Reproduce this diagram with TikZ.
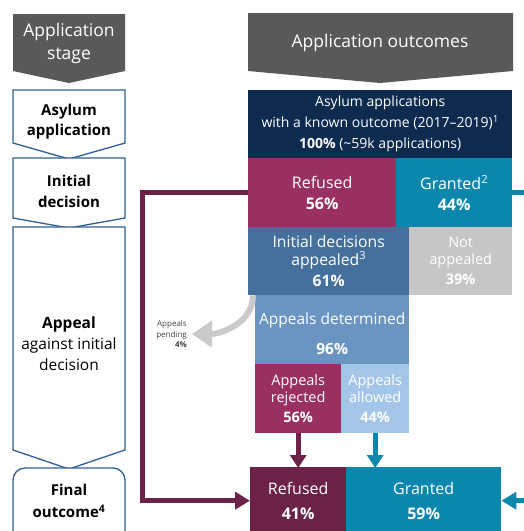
\documentclass[tikz,border=0pt]{standalone}
\usepackage{fontspec}
\setmainfont{Open Sans}
\usetikzlibrary{arrows.meta}
\definecolor{hdrgrey}{HTML}{595959}
\definecolor{outl}{HTML}{2F5F96}
\definecolor{navy}{HTML}{0D2A4F}
\definecolor{rasp}{HTML}{9A2F62}
\definecolor{tealc}{HTML}{0B86AD}
\definecolor{steel}{HTML}{45709C}
\definecolor{notgrey}{HTML}{C6C6C6}
\definecolor{midblue}{HTML}{6A94C2}
\definecolor{lightblue}{HTML}{A3C6E8}
\definecolor{darkmaroon}{HTML}{6C2248}
\definecolor{pendgrey}{HTML}{CACACA}
\newcommand\fs[2]{\fontsize{#1}{#2}\selectfont}
\begin{document}
\begin{tikzpicture}[x=1pt,y=-1pt,
  box/.style={anchor=north west, inner sep=0pt, align=center, text=white, draw=none},
  hdr/.style={fill=hdrgrey, draw=none},
  chev/.style={draw=outl, line width=1.3pt, fill=white, line join=miter},
  stagetxt/.style={align=center, text=black, inner sep=0pt},
  flowline/.style={line width=5pt, line join=miter, -{Triangle[width=17pt,length=15pt]}},
  downarrow/.style={line width=5pt, -{Triangle[width=16pt,length=13pt]}}
]
\useasboundingbox (0,0) rectangle (524,531);
\clip (0,0) rectangle (524,531);

% headers
\path[hdr] (13,14) -- (125,14) -- (125,71) -- (69,83) -- (13,71) -- cycle;
\node[align=center, text=white, inner sep=0pt, font=\fs{17.5}{23}] (hstage) at (69,43) {Application\\stage};
\path[hdr] (248,13) -- (513,13) -- (513,71) -- (380,83) -- (248,71) -- cycle;
\node[text=white, inner sep=0pt, font=\fs{17.5}{23}] (hout) at (380,43) {Application outcomes};

% left stage column
\path[chev] (13,90) -- (125,90) -- (125,143) -- (69,159) -- (13,143) -- cycle;
\path[chev] (13,158) -- (125,158) -- (125,218) -- (69,228) -- (13,218) -- cycle;
\path[chev] (13,227) -- (125,227) -- (125,450) -- (69,469) -- (13,450) -- cycle;
\path[chev, rounded corners=12pt] (13,560) -- (13,468) -- (125,468) -- (125,560);
\node[stagetxt, font=\bfseries\fs{15}{20}] (sasy) at (69,122) {Asylum\\application};
\node[stagetxt, font=\bfseries\fs{15}{21}] (sinit) at (69,191) {Initial\\decision};
\node[stagetxt, font=\fs{15.5}{21}] (sapp) at (69,344) {\textbf{Appeal}\\against initial\\decision};
\node[stagetxt, font=\bfseries\fs{15}{22}] (sfin) at (69,501) {Final\\outcome\textsuperscript{4}};

% outcome boxes
\node[box, fill=navy, minimum width=264pt, minimum height=68pt, font=\fs{14}{21}] (tot) at (248,90)
  {Asylum applications\\with a known outcome (2017–2019)\textsuperscript{1}\\\textbf{100\%} (\textasciitilde59k applications)};
\node[box, fill=rasp, minimum width=148pt, minimum height=69pt, font=\fs{16}{21}] (ref1) at (248,158)
  {Refused\\\textbf{56\%}};
\node[box, fill=tealc, minimum width=116pt, minimum height=69pt, font=\fs{16}{21}] (gr1) at (396,158)
  {Granted\textsuperscript{2}\\\textbf{44\%}};
\node[box, fill=steel, minimum width=161pt, minimum height=68pt, font=\fs{15.7}{17.5}] (app) at (248,227)
  {Initial decisions\\appealed\textsuperscript{3}\\[4pt]\textbf{61\%}};
\node[box, fill=notgrey, minimum width=103pt, minimum height=68pt, font=\fs{14.5}{17}] (nap) at (409,227)
  {Not\\appealed\\[3pt]\textbf{39\%}};
\node[box, fill=midblue, minimum width=154pt, minimum height=69pt, font=\fs{15.5}{20}, text height=49pt] (det) at (255,295)
  {Appeals determined\\[10pt]\textbf{96\%}};
\node[box, fill=rasp, minimum width=86pt, minimum height=69pt, font=\fs{14.5}{17}] (rej) at (255,364)
  {Appeals\\rejected\\[3pt]\textbf{56\%}};
\node[box, fill=lightblue, minimum width=68pt, minimum height=69pt, font=\fs{14.5}{17}] (alw) at (341,364)
  {Appeals\\allowed\\[3pt]\textbf{44\%}};
\node[box, fill=darkmaroon, minimum width=96pt, minimum height=67pt, font=\fs{16}{25}] (refF) at (250,467)
  {Refused\\\textbf{41\%}};
\node[box, fill=tealc, minimum width=155pt, minimum height=67pt, font=\fs{16}{25}] (grF) at (346,467)
  {Granted\\\textbf{59\%}};

% appeals pending
\node[align=right, anchor=east, inner sep=0pt, text=black!75, font=\fs{8}{10.5}] (pend) at (187,334)
  {Appeals\\pending\\\textbf{4\%}};
\draw[pendgrey, line width=6pt, -{Triangle[width=26pt,length=20pt]}]
  ([xshift=5pt]app.south west) to[out=-90,in=0] ([xshift=5pt]pend.east);

% connectors
\draw[darkmaroon, flowline] (ref1.west) -- ++(-106,0) |- (refF.west);
\draw[tealc, flowline] (gr1.east) -- ++(18,0) |- (grF.east);
\draw[darkmaroon, downarrow] (rej.south) -- ([yshift=-1pt]refF.north);
\draw[tealc, downarrow] (alw.south) -- ([yshift=-1pt]alw.south |- grF.north);
\end{tikzpicture}
\end{document}
